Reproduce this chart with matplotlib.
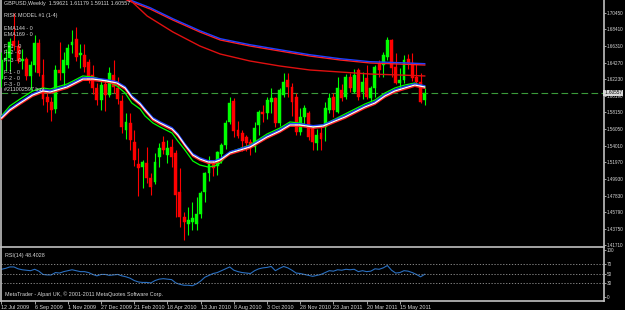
import matplotlib
matplotlib.use('Agg')
import matplotlib.pyplot as plt
import matplotlib.transforms as mtransforms

# weekly GBPUSD bars, 12 Jul 2009 .. 26 Jun 2011 (index = week number)
opens = [1.6230, 1.6460, 1.6490, 1.6700, 1.6630, 1.6450, 1.6480, 1.6270, 1.6400, 1.6670,
         1.6280, 1.6000, 1.5940, 1.5850, 1.6340, 1.6300, 1.6400, 1.6650, 1.6720, 1.6520,
         1.6530, 1.6440, 1.6280, 1.6120, 1.5970, 1.6170, 1.6030, 1.6280, 1.6110, 1.5960,
         1.5600, 1.5680, 1.5450, 1.5170, 1.5140, 1.5190, 1.5000, 1.4950, 1.5260, 1.5450,
         1.5290, 1.5380, 1.5310, 1.4830, 1.4520, 1.4430, 1.4460, 1.4430, 1.4550, 1.4830,
         1.5060, 1.5180, 1.5150, 1.5300, 1.5410, 1.5690, 1.5960, 1.5600, 1.5560, 1.5510,
         1.5450, 1.5390, 1.5660, 1.5820, 1.5810, 1.5940, 1.5990, 1.5680, 1.6030, 1.6220,
         1.6130, 1.6000, 1.5570, 1.5760, 1.5810, 1.5620, 1.5430, 1.5560, 1.5630, 1.5840,
         1.6000, 1.5820, 1.6090, 1.6000, 1.6250, 1.6070, 1.6340, 1.6070, 1.6240, 1.5990,
         1.6110, 1.6420, 1.6400, 1.6500, 1.6710, 1.6380, 1.6180, 1.6220, 1.6480, 1.6420,
         1.6250, 1.6190, 1.59621]
highs = [1.6560, 1.6600, 1.6740, 1.7043, 1.6710, 1.6600, 1.6500, 1.6450, 1.6770, 1.6720,
         1.6470, 1.6050, 1.6000, 1.6400, 1.6680, 1.6560, 1.6660, 1.6840, 1.6870, 1.6660,
         1.6660, 1.6480, 1.6400, 1.6180, 1.6200, 1.6220, 1.6380, 1.6460, 1.6250, 1.6030,
         1.5810, 1.5810, 1.5600, 1.5370, 1.5230, 1.5380, 1.5060, 1.5310, 1.5430, 1.5520,
         1.5470, 1.5480, 1.5350, 1.5120, 1.4580, 1.4640, 1.4700, 1.4760, 1.4840, 1.5080,
         1.5270, 1.5220, 1.5330, 1.5440, 1.5720, 1.6000, 1.5990, 1.5710, 1.5600, 1.5530,
         1.5490, 1.5690, 1.5840, 1.5900, 1.6000, 1.6110, 1.6000, 1.6110, 1.6300, 1.6300,
         1.6180, 1.6050, 1.5870, 1.5900, 1.5830, 1.5660, 1.5610, 1.5660, 1.5940, 1.6050,
         1.6060, 1.6250, 1.6170, 1.6290, 1.6300, 1.6350, 1.6360, 1.6320, 1.6400, 1.6140,
         1.6400, 1.6460, 1.6560, 1.6750, 1.6720, 1.6550, 1.6360, 1.6520, 1.6540, 1.6550,
         1.6410, 1.6300, 1.61179]
lows = [1.6130, 1.6330, 1.6330, 1.6590, 1.6420, 1.6350, 1.6210, 1.6090, 1.6320, 1.6260,
        1.5900, 1.5820, 1.5710, 1.5800, 1.6220, 1.6120, 1.6360, 1.6550, 1.6450, 1.6360,
        1.6320, 1.6180, 1.6040, 1.5900, 1.5840, 1.5830, 1.6000, 1.6050, 1.5920, 1.5560,
        1.5480, 1.5350, 1.5150, 1.4780, 1.4880, 1.4940, 1.4790, 1.4930, 1.5140, 1.5300,
        1.5190, 1.5140, 1.4520, 1.4400, 1.4230, 1.4300, 1.4360, 1.4360, 1.4500, 1.4700,
        1.4960, 1.5020, 1.5040, 1.5190, 1.5360, 1.5670, 1.5510, 1.5500, 1.5340, 1.5340,
        1.5290, 1.5320, 1.5530, 1.5700, 1.5730, 1.5800, 1.5630, 1.5650, 1.6000, 1.6000,
        1.5770, 1.5530, 1.5530, 1.5650, 1.5470, 1.5350, 1.5350, 1.5350, 1.5460, 1.5800,
        1.5760, 1.5800, 1.5950, 1.5980, 1.6070, 1.6060, 1.5970, 1.5980, 1.5980, 1.5940,
        1.6010, 1.6250, 1.6250, 1.6460, 1.6250, 1.6160, 1.6090, 1.6180, 1.6350, 1.6200,
        1.6150, 1.5930, 1.59111]
closes = [1.6460, 1.6490, 1.6680, 1.6640, 1.6450, 1.6480, 1.6270, 1.6400, 1.6670, 1.6300,
          1.5980, 1.5940, 1.5840, 1.6340, 1.6300, 1.6460, 1.6610, 1.6680, 1.6500, 1.6550,
          1.6370, 1.6220, 1.6120, 1.5970, 1.6150, 1.6030, 1.6300, 1.6130, 1.5980, 1.5630,
          1.5700, 1.5470, 1.5220, 1.5130, 1.5200, 1.5000, 1.4890, 1.5200, 1.5370, 1.5350,
          1.5370, 1.5260, 1.4790, 1.4520, 1.4460, 1.4480, 1.4500, 1.4550, 1.4810, 1.5060,
          1.5180, 1.5130, 1.5320, 1.5410, 1.5680, 1.5930, 1.5580, 1.5520, 1.5460, 1.5430,
          1.5370, 1.5620, 1.5820, 1.5790, 1.5970, 1.5990, 1.5680, 1.6090, 1.6190, 1.6130,
          1.5940, 1.5570, 1.5760, 1.5870, 1.5510, 1.5450, 1.5530, 1.5480, 1.5870, 1.5990,
          1.5840, 1.6110, 1.5990, 1.6250, 1.6110, 1.6280, 1.6000, 1.6190, 1.6000, 1.6110,
          1.6380, 1.6340, 1.6530, 1.6710, 1.6360, 1.6180, 1.6220, 1.6460, 1.6420, 1.6240,
          1.6190, 1.5940, 1.60557]

# moving-average band (week, price)
band_weeks = [0, 2, 4.5, 7.5, 10, 11.7, 15.8, 19.6, 22, 25.4, 27.8, 29.8, 31.4, 33.4, 34.6,
              36.5, 38.2, 41.1, 42.5, 44.2, 46.1, 47.8, 49.8, 51.4, 52.7, 55.1, 59.9, 64,
              67.1, 69.5, 71.9, 75.1, 77.5, 80.4, 82.8, 85.2, 87.6, 90, 92.4, 94.8, 97.2,
              99.6, 102]
band_mid = [1.5744, 1.5843, 1.5930, 1.6029, 1.6079, 1.6066, 1.6128, 1.6227, 1.6227, 1.6203,
            1.6178, 1.6116, 1.6004, 1.5918, 1.5843, 1.5732, 1.5682, 1.5608, 1.5534, 1.5410,
            1.5286, 1.5236, 1.5199, 1.5199, 1.5224, 1.5311, 1.5385, 1.5509, 1.5583, 1.5658,
            1.5658, 1.5633, 1.5645, 1.5707, 1.5757, 1.5819, 1.5881, 1.5930, 1.6017, 1.6079,
            1.6116, 1.6153, 1.6128]
band_fast = [1.5769, 1.5893, 1.5980, 1.6079, 1.6116, 1.6103, 1.6165, 1.6265, 1.6252, 1.6203,
             1.6141, 1.6054, 1.5930, 1.5856, 1.5769, 1.5682, 1.5633, 1.5558, 1.5459, 1.5348,
             1.5212, 1.5162, 1.5137, 1.5150, 1.5187, 1.5323, 1.5410, 1.5546, 1.5620, 1.5695,
             1.5682, 1.5633, 1.5658, 1.5732, 1.5794, 1.5856, 1.5918, 1.5967, 1.6054, 1.6116,
             1.6153, 1.6178, 1.6128]

# long EMAs (EMA144 / EMA169)
ema144_weeks = [29, 30.2, 35.8, 41.3, 47.8, 52.7, 59.9, 67.1, 74.3, 81.6, 88.8, 96, 102]
ema144 = [1.7240, 1.7206, 1.7095, 1.6958, 1.6810, 1.6711, 1.6636, 1.6574, 1.6512, 1.6463,
          1.6426, 1.6413, 1.6401]
ema169_weeks = [30, 31, 35.1, 41.3, 47.8, 52.7, 59.9, 67.1, 74.3, 81.6, 88.8, 96, 102]
ema169 = [1.7240, 1.7206, 1.7008, 1.6810, 1.6636, 1.6537, 1.6450, 1.6388, 1.6339, 1.6314,
          1.6289, 1.6277, 1.6265]

rsi = [59, 61, 64, 64, 60, 58, 57, 56, 59, 55, 48, 47, 47, 52, 51, 54, 56, 58, 56, 54,
       54, 52, 48, 45, 48, 48, 46, 47, 48, 45, 43, 40, 35, 32, 31, 31, 30, 35, 38, 39,
       38, 37, 30, 27, 25, 25, 24, 28, 34, 42, 46, 50, 52, 56, 60, 64, 57, 54, 52, 51,
       50, 56, 60, 62, 63, 65, 56, 61, 65, 62, 57, 51, 50, 48, 46, 44, 46, 48, 52, 56,
       55, 58, 57, 59, 58, 59, 54, 56, 54, 55, 60, 59, 62, 67, 57, 51, 52, 56, 55, 52,
       48, 43, 48.4028]

price_ticks = [1.70450, 1.68410, 1.66310, 1.64270, 1.62230, 1.60190, 1.58150, 1.56050,
               1.54010, 1.51970, 1.49930, 1.47830, 1.45790, 1.43750, 1.41710]
date_weeks = [0, 8, 16, 24, 32, 40, 48, 56, 64, 72, 80, 88, 96]
date_labels = ['12 Jul 2009', '6 Sep 2009', '1 Nov 2009', '27 Dec 2009', '21 Feb 2010',
               '18 Apr 2010', '13 Jun 2010', '8 Aug 2010', '3 Oct 2010', '28 Nov 2010',
               '23 Jan 2011', '20 Mar 2011', '15 May 2011']
last_price = 1.60557

plt.rcParams['font.family'] = ['Liberation Sans', 'DejaVu Sans']
fs = 3.9
fs_axis = 3.35

W, H = 625, 310
fig = plt.figure(figsize=(W / 100, H / 100), dpi=100, facecolor='black')
grey = '#c0c0c0'
txt = '#d8d8d8'

ax = fig.add_axes([1 / W, 1 - 247 / H, 603 / W, 247 / H], facecolor='black')
ax2 = fig.add_axes([1 / W, 1 - 301 / H, 603 / W, 53 / H], facecolor='black')
for a in (ax, ax2):
    for s in a.spines.values():
        s.set_color(grey)
        s.set_linewidth(1.2)
    a.spines['top'].set_visible(False)

xlim = (-0.12, 145.2)

# candles
n = len(closes)
weeks = list(range(n))
cols = ['#00ff00' if c >= o else '#ff0000' for o, c in zip(opens, closes)]
ax.vlines(weeks, lows, highs, colors=cols, linewidth=0.8, zorder=3)
bottoms = [min(o, c) for o, c in zip(opens, closes)]
heights = [max(abs(c - o), 0.0004) for o, c in zip(opens, closes)]
ax.bar(weeks, heights, bottom=bottoms, width=0.7, color=cols, edgecolor=cols,
       linewidth=0.3, zorder=4)

# band lines
up = mtransforms.offset_copy(ax.transData, fig=fig, x=0, y=1.3, units='dots')
dn = mtransforms.offset_copy(ax.transData, fig=fig, x=0, y=-1.3, units='dots')
ax.plot(band_weeks, band_fast, color='#00ff00', lw=0.9, zorder=5)
ax.plot(band_weeks, band_mid, color='#ff2020', lw=1.0, zorder=5, transform=dn)
ax.plot(band_weeks, band_mid, color='#2040ff', lw=1.0, zorder=5, transform=up)
ax.plot(band_weeks, band_mid, color='white', lw=0.9, zorder=6)

# long EMAs
ax.plot(ema144_weeks, ema144, color='#ff2020', lw=1.0, zorder=5)
ax.plot(ema144_weeks, ema144, color='#2040ff', lw=1.0, zorder=5, transform=up)
ax.plot(ema169_weeks, ema169, color='#e01010', lw=1.0, zorder=5)

# order / price line
ax.axhline(last_price, color='#3a9a3a', lw=0.8, dashes=(6, 3), zorder=2)

ax.set_xlim(xlim)
ax.set_ylim(1.41462, 1.72060)
ax.set_xticks([])
ax.yaxis.tick_right()
ax.set_yticks(price_ticks)
ax.set_yticklabels(['%.5f' % p for p in price_ticks])
ax.tick_params(axis='y', colors=grey, labelcolor=txt, labelsize=fs_axis, length=1.6,
               width=0.6, pad=0.6)
ax.text(1.0, last_price, ' %.5f' % last_price, transform=ax.get_yaxis_transform(),
        fontsize=fs_axis, color='black', va='center', ha='left', zorder=10,
        bbox=dict(facecolor='#d8d8d8', edgecolor='none', pad=0.4))

# info texts
info = [('GBPUSD,Weekly  1.59621 1.61179 1.59111 1.60557', 4),
        ('RISK MODEL #1 (1-4)', 16), ('EMA144 - 0', 29), ('EMA169 - 0', 35),
        ('F+1 - 0', 47), ('F+2 - 0', 53), ('F+3 - 0', 60),
        ('F-1 - 0', 72), ('F-2 - 0', 79), ('F-3 - 0', 85), ('#211002597 buy', 90)]
for s, py in info:
    fig.text(4 / W, 1 - py / H, s, fontsize=fs, color=txt, va='center', ha='left',
             zorder=20)

# RSI panel
ax2.plot(weeks, rsi, color='#2a6fc0', lw=0.8)
for lvl in (70, 50, 30):
    ax2.axhline(lvl, color='#9a9a9a', lw=0.6, linestyle=(0, (1.5, 2)))
ax2.set_xlim(xlim)
ax2.set_ylim(-8.5, 104.3)
ax2.yaxis.tick_right()
ax2.set_yticks([100, 70, 50, 30, 0])
ax2.tick_params(axis='y', colors=grey, labelcolor=txt, labelsize=fs_axis, length=1.6,
                width=0.6, pad=0.6)
ax2.set_xticks(date_weeks)
ax2.set_xticklabels(date_labels, ha='left')
ax2.tick_params(axis='x', colors=grey, labelcolor=txt, labelsize=fs, length=2,
                width=0.6, pad=1)
ax2.text(0.006, 0.9, 'RSI(14) 48.4028', transform=ax2.transAxes, fontsize=fs,
         color=txt, va='top', ha='left')
ax2.text(0.006, 0.08, 'MetaTrader - Alpari UK, \u00a9 2001-2011 MetaQuotes Software Corp.',
         transform=ax2.transAxes, fontsize=fs, color=txt, va='bottom', ha='left')

fig.savefig('out.png', dpi=100, facecolor='black')
